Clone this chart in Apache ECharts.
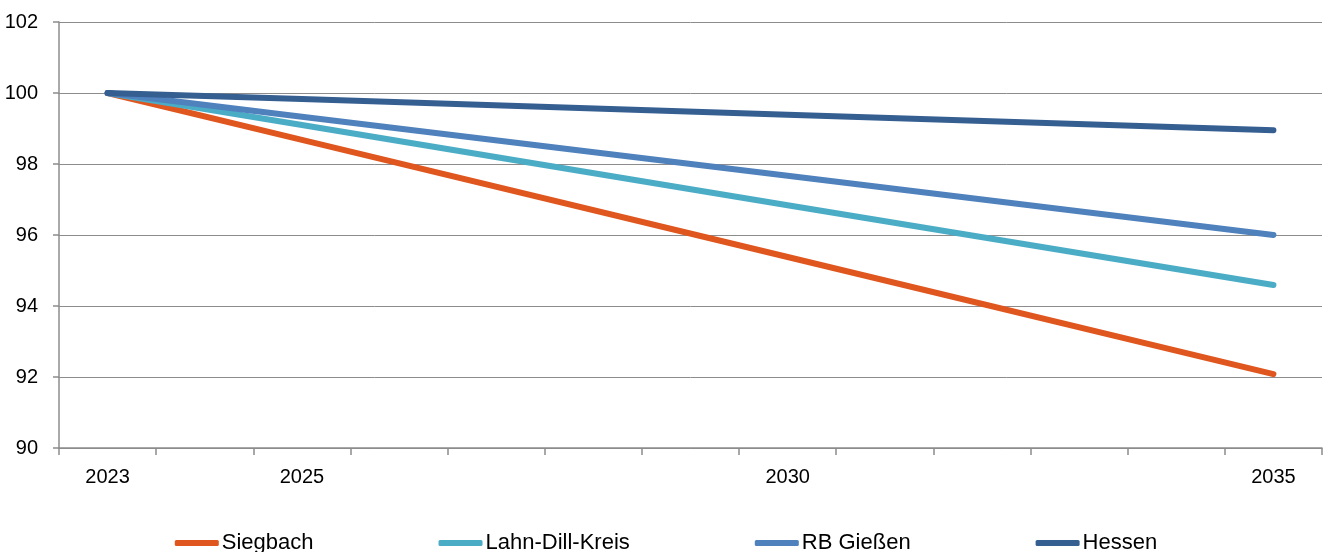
<!DOCTYPE html>
<html>
<head>
<meta charset="utf-8">
<script src="https://cdn.jsdelivr.net/npm/echarts@6/dist/echarts.min.js"></script>
<style>
html,body{margin:0;padding:0;background:#fff;}
#c{width:1332px;height:552px;}
</style>
</head>
<body>
<div id="c"></div>
<script>
var years = ['2023','2024','2025','2026','2027','2028','2029','2030','2031','2032','2033','2034','2035'];
var shownYears = ['2023','2025','2030','2035'];
var seriesNames = ['Siegbach','Lahn-Dill-Kreis','RB Gießen','Hessen'];
var siegbach = [100, null, 98.68, null, null, null, null, 95.38, null, null, null, null, 92.08];
var lahnDill = [100, null, 99.10, null, null, null, null, 96.84, null, null, null, null, 94.59];
var rbGiessen = [100, null, 99.33, null, null, null, null, 97.67, null, null, null, null, 96.00];
var hessen = [100, null, 99.83, null, null, null, null, 99.39, null, null, null, null, 98.95];
var colors = ['#E0561F','#4BACC6','#4F81BD','#355E91'];
var FONT = "'Liberation Sans Narrow','Arial Narrow','Liberation Sans',Arial,sans-serif";

var chart = echarts.init(document.getElementById('c'));
var data = [siegbach, lahnDill, rbGiessen, hessen];
chart.setOption({
  animation: false,
  backgroundColor: '#fff',
  color: colors,
  grid: {left: 59, right: 10, top: 22, bottom: 104, containLabel: false},
  legend: {
    left: 'center', top: 527,
    itemWidth: 44, itemHeight: 6, itemGap: 125,
    icon: 'roundRect',
    textStyle: {fontFamily: FONT, fontSize: 22, color: '#000', padding: [0,0,0,-2]},
    data: seriesNames.map(function(n, i){ return {name: n, icon: 'roundRect', itemStyle: {color: colors[i], borderWidth: 0}}; })
  },
  xAxis: {
    type: 'category',
    data: years,
    boundaryGap: true,
    axisLine: {lineStyle: {color: '#8c8c8c', width: 1.5}},
    axisTick: {show: true, interval: 0, length: 7, lineStyle: {color: '#8c8c8c', width: 1.5}},
    axisLabel: {
      interval: 0,
      margin: 19,
      fontFamily: FONT, fontSize: 20, color: '#000',
      formatter: function(v){ return shownYears.indexOf(v) >= 0 ? v : ''; }
    }
  },
  yAxis: {
    type: 'value',
    min: 90, max: 102, interval: 2,
    axisLine: {show: true, lineStyle: {color: '#8c8c8c', width: 1.5}},
    axisTick: {show: true, length: 6, lineStyle: {color: '#8c8c8c', width: 1.5}},
    splitLine: {lineStyle: {color: '#8c8c8c', width: 1}},
    axisLabel: {margin: 21, fontFamily: FONT, fontSize: 20, color: '#000'}
  },
  series: data.map(function(d, i){
    return {
      name: seriesNames[i], type: 'line', data: d, connectNulls: true,
      showSymbol: false, symbol: 'none',
      lineStyle: {width: 6, cap: 'round', join: 'round', color: colors[i]},
      itemStyle: {color: colors[i]},
      z: 2 + i
    };
  })
});
</script>
</body>
</html>
